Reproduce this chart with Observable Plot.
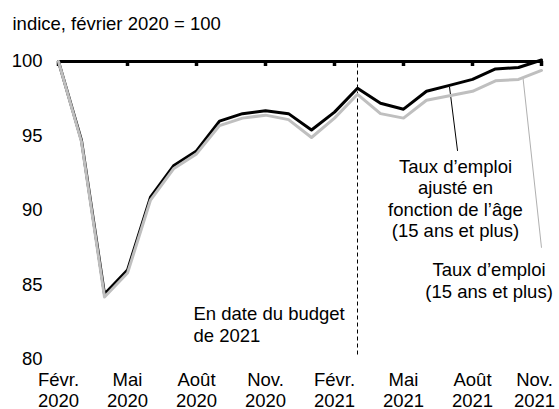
<!DOCTYPE html>
<html>
<head>
<meta charset="utf-8">
<script src="https://cdn.jsdelivr.net/npm/d3@7"></script>
<script src="https://cdn.jsdelivr.net/npm/@observablehq/plot@0.6"></script>
<style>
  body { margin: 0; background: #fff; }
  #chart svg { display: block; }
</style>
</head>
<body>
<div id="chart"></div>
<script>
// ---- Data ----
const months = ["2020-02","2020-03","2020-04","2020-05","2020-06","2020-07","2020-08","2020-09","2020-10","2020-11","2020-12",
                "2021-01","2021-02","2021-03","2021-04","2021-05","2021-06","2021-07","2021-08","2021-09","2021-10","2021-11"];
// Taux d'emploi ajusté en fonction de l'âge (black)
const tauxAjuste = [100, 94.7, 84.4, 86.0, 90.9, 93.0, 94.0, 96.0, 96.5, 96.7, 96.5,
                    95.4, 96.6, 98.2, 97.2, 96.8, 98.0, 98.4, 98.8, 99.5, 99.6, 100.1];
// Taux d'emploi (grey)
const tauxEmploi = [100, 94.6, 84.2, 85.8, 90.7, 92.8, 93.8, 95.7, 96.2, 96.4, 96.1,
                    94.9, 96.2, 97.8, 96.5, 96.2, 97.4, 97.7, 98.0, 98.7, 98.8, 99.4];
const tickMonths = ["2020-02","2020-05","2020-08","2020-11","2021-02","2021-05","2021-08","2021-11"];
const tickLabels = ["Févr.\n2020","Mai\n2020","Août\n2020","Nov.\n2020","Févr.\n2021","Mai\n2021","Août\n2021","Nov.\n2021"];
const yTicks = [80, 85, 90, 95, 100];
const budgetMonth = "2021-03";
const title = "indice, février 2020 = 100";
const noteBudget = {x: 5.87, y: 81.2, text: "En date du budget\nde 2021"};
const noteAjuste = {x: 17.26, y: 88.2, text: "Taux d’emploi\najusté en\nfonction de l’âge\n(15 ans et plus)"};
const noteEmploi = {x: 18.72, y: 84.15, text: "Taux d’emploi\n(15 ans et plus)"};
const leaderAjuste = {x1: 17, y1: 98.3, x2: 17.35, y2: 94.0};
const leaderEmploi = {x1: 20.2, y1: 98.85, x2: 21, y2: 87.5};

const idx = m => months.indexOf(m);
const seriesA = months.map((m, i) => ({i, v: tauxAjuste[i]}));
const seriesE = months.map((m, i) => ({i, v: tauxEmploi[i]}));

const chart = Plot.plot({
  width: 559,
  height: 409,
  marginTop: 61,
  marginBottom: 50,
  marginLeft: 58,
  marginRight: 18,
  style: {fontFamily: "'Liberation Sans', Arial, sans-serif", fontSize: "18.5px", background: "white", color: "black"},
  x: {type: "linear", domain: [0, months.length - 1], axis: null},
  y: {domain: [80, 100], ticks: yTicks, tickSize: 0, tickPadding: 16, label: null},
  marks: [
    Plot.ruleX([budgetMonth], {x: idx, y1: 80.3, y2: 100, stroke: "black", strokeWidth: 1, strokeDasharray: "4,3"}),
    Plot.ruleY([100], {stroke: "black", strokeWidth: 3}),
    Plot.ruleX(tickMonths, {x: idx, y1: 100, y2: 100, insetBottom: -5, stroke: "black", strokeWidth: 3.5}),
    Plot.link([leaderAjuste], {x1: "x1", y1: "y1", x2: "x2", y2: "y2", stroke: "black", strokeWidth: 1}),
    Plot.link([leaderEmploi], {x1: "x1", y1: "y1", x2: "x2", y2: "y2", stroke: "#b0b0b0", strokeWidth: 1}),
    Plot.line(seriesA, {x: "i", y: "v", stroke: "black", strokeWidth: 3}),
    Plot.line(seriesE, {x: "i", y: "v", stroke: "#bfbfbf", strokeWidth: 3}),
    Plot.text(tickMonths.slice(0, -1), {x: idx, text: m => tickLabels[tickMonths.indexOf(m)], frameAnchor: "bottom", lineAnchor: "bottom", dy: 47, lineHeight: 1.13, fill: "black"}),
    Plot.text(tickMonths.slice(-1), {x: idx, text: m => tickLabels[tickMonths.indexOf(m)], frameAnchor: "bottom", lineAnchor: "bottom", dy: 47, dx: -7, lineHeight: 1.13, fill: "black"}),
    Plot.text([title], {text: d => d, frameAnchor: "top-left", dx: -46, dy: -32, lineAnchor: "bottom", textAnchor: "start", fill: "black"}),
    Plot.text([noteBudget], {x: "x", y: "y", text: "text", textAnchor: "start", lineAnchor: "bottom", lineHeight: 1.16, fill: "black"}),
    Plot.text([noteAjuste], {x: "x", y: "y", text: "text", textAnchor: "middle", lineAnchor: "bottom", lineHeight: 1.16, fill: "black"}),
    Plot.text([noteEmploi], {x: "x", y: "y", text: "text", textAnchor: "middle", lineAnchor: "bottom", lineHeight: 1.16, fill: "black"})
  ]
});
document.getElementById("chart").appendChild(chart);
</script>
</body>
</html>
